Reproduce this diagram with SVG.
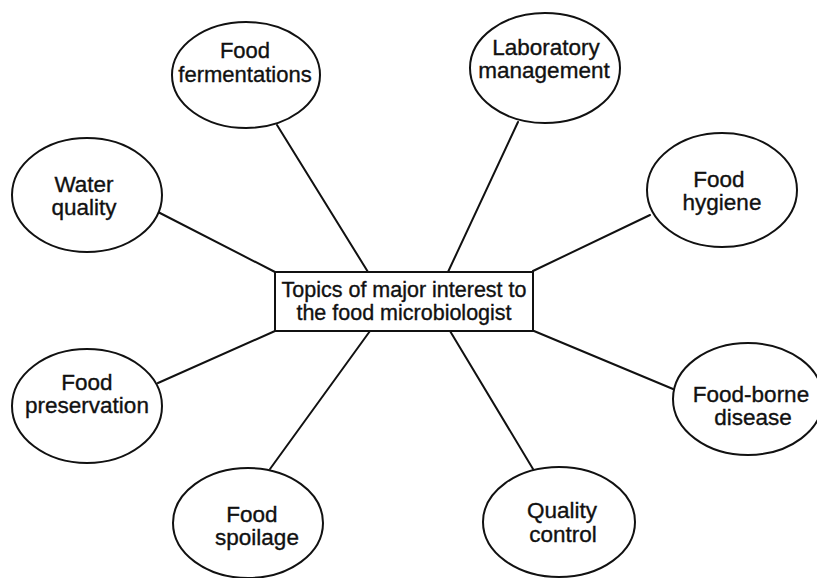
<svg xmlns="http://www.w3.org/2000/svg" width="817" height="578" viewBox="0 0 817 578">
  <style>
    .topic ellipse { fill: #ffffff; stroke: #111111; stroke-width: 2; }
    .hub rect { fill: #ffffff; stroke: #111111; stroke-width: 2; }
    text { font-family: "Liberation Sans", Arial, sans-serif; font-size: 22.5px; fill: #111111; stroke: #111111; stroke-width: 0.35; text-anchor: middle; }
    .hub text { font-size: 21.5px; }
    #connectors line { stroke: #111111; stroke-width: 2; stroke-linecap: round; }
  </style>
  <rect width="817" height="578" fill="#ffffff"/>

  <!-- spokes from the central box to each topic -->
  <g id="connectors">
    <line x1="277" y1="125" x2="368" y2="272"/>
    <line x1="518" y1="122" x2="448" y2="272"/>
    <line x1="158" y1="212" x2="275" y2="272"/>
    <line x1="650" y1="215" x2="533" y2="271"/>
    <line x1="158" y1="383" x2="275" y2="331"/>
    <line x1="673" y1="389" x2="534" y2="331"/>
    <line x1="270" y1="469" x2="370" y2="331"/>
    <line x1="533" y1="469" x2="450" y2="331"/>
  </g>

  <g id="hub" class="hub">
    <rect x="275" y="272" width="258" height="59"/>
    <text x="404" y="297">Topics of major interest to</text>
    <text x="404" y="320">the food microbiologist</text>
  </g>

  <g id="food-fermentations" class="topic">
    <ellipse cx="246" cy="75" rx="74" ry="53"/>
    <text x="245" y="58" style="font-size:22px">Food</text>
    <text x="245" y="82" style="font-size:22px">fermentations</text>
  </g>

  <g id="laboratory-management" class="topic">
    <ellipse cx="545" cy="68" rx="75" ry="55"/>
    <text x="546" y="54.5">Laboratory</text>
    <text x="544" y="78">management</text>
  </g>

  <g id="water-quality" class="topic">
    <ellipse cx="87" cy="195" rx="75" ry="57"/>
    <text x="84" y="192">Water</text>
    <text x="84" y="215">quality</text>
  </g>

  <g id="food-hygiene" class="topic">
    <ellipse cx="722" cy="190" rx="75" ry="57"/>
    <text x="719" y="187">Food</text>
    <text x="722" y="210">hygiene</text>
  </g>

  <g id="food-preservation" class="topic">
    <ellipse cx="87" cy="406" rx="75" ry="57"/>
    <text x="87" y="390">Food</text>
    <text x="87" y="413">preservation</text>
  </g>

  <g id="food-borne-disease" class="topic">
    <ellipse cx="748" cy="399" rx="75" ry="56"/>
    <text x="751" y="401.5">Food-borne</text>
    <text x="753" y="425">disease</text>
  </g>

  <g id="food-spoilage" class="topic">
    <ellipse cx="248" cy="523" rx="75" ry="55"/>
    <text x="252" y="522">Food</text>
    <text x="257" y="545">spoilage</text>
  </g>

  <g id="quality-control" class="topic">
    <ellipse cx="559" cy="522" rx="76" ry="55"/>
    <text x="562" y="518">Quality</text>
    <text x="563" y="542">control</text>
  </g>
</svg>
